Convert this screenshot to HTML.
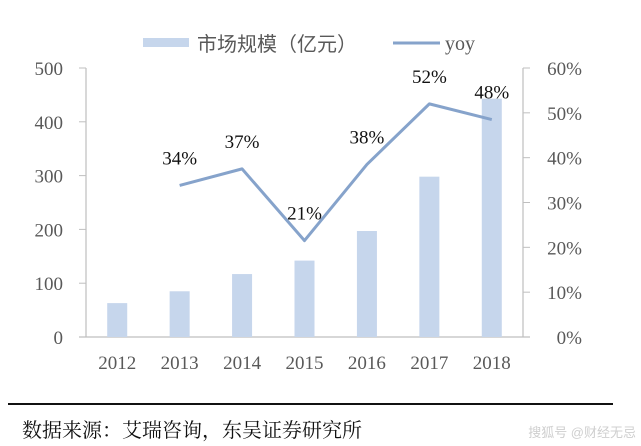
<!DOCTYPE html>
<html><head><meta charset="utf-8"><style>
body{margin:0;background:#fff;width:641px;height:446px;overflow:hidden}
svg{display:block}
text{font-family:"Liberation Serif","Noto Serif CJK SC",serif}
</style></head><body>
<svg id="c" width="641" height="446">
<g id="g"></g>
</svg>
<script>
const categories=["2012","2013","2014","2015","2016","2017","2018"];
const marketSize=[63,85,117,142,197,298,443];
const yoy=[null,33.8,37.5,21.5,38.5,52,48.5];
const yoyLabels=["","34%","37%","21%","38%","52%","48%"];
const leftTicks=[0,100,200,300,400,500];
const rightTicks=[0,10,20,30,40,50,60];
const NS="http://www.w3.org/2000/svg";
const g=document.getElementById('g');
const x0=86,x1=523,yb=337,yt=68;
const yL=v=>yb-(v/500)*(yb-yt);
const yR=v=>yb-(v/60)*(yb-yt);
const step=(x1-x0)/categories.length;
const xC=i=>x0+step*(i+0.5);
function el(t,a,p){const e=document.createElementNS(NS,t);for(const k in a)e.setAttribute(k,a[k]);(p||g).appendChild(e);return e;}
let e;
e=el('line',{x1:x0,y1:yt,x2:x0,y2:yb,stroke:'#bfbfbf','stroke-width':1.2});


e=el('line',{x1:x1,y1:yt,x2:x1,y2:yb,stroke:'#bfbfbf','stroke-width':1.2});


e=el('line',{x1:79,y1:yb,x2:x1+7,y2:yb,stroke:'#bfbfbf','stroke-width':1.2});


leftTicks.forEach(v=>{
  el('line',{x1:79,y1:yL(v),x2:x0,y2:yL(v),stroke:'#bfbfbf'});
  e=el('text',{x:63,y:yL(v)+7,'text-anchor':'end','font-size':19,fill:'#595959'});
  e.textContent=v;
  
  
});
rightTicks.forEach(v=>{
  el('line',{x1:x1,y1:yR(v),x2:x1+7,y2:yR(v),stroke:'#bfbfbf'});
  e=el('text',{x:582,y:yR(v)+7,'text-anchor':'end','font-size':19,fill:'#595959'});
  e.textContent=v+'%';
  
  
});
categories.forEach((c,i)=>{
  e=el('rect',{x:xC(i)-10,y:yL(marketSize[i]),width:20,height:yb-yL(marketSize[i]),fill:'#c6d6ec'});
  
  
  e=el('text',{x:xC(i),y:369,'text-anchor':'middle','font-size':19,fill:'#595959'});
  e.textContent=c;
  
  
});
let pts=[];
yoy.forEach((v,i)=>{if(v!==null)pts.push(xC(i)+','+yR(v));});
e=el('polyline',{points:pts.join(' '),fill:'none',stroke:'#86a3cb','stroke-width':3,'stroke-linejoin':'round'});


yoy.forEach((v,i)=>{if(v===null)return;
  e=el('text',{x:xC(i),y:yR(v)-21,'text-anchor':'middle','font-size':19,fill:'#111'});
  e.textContent=yoyLabels[i];
  
  
});
</script>
<svg style="position:absolute;left:0;top:0" width="641" height="446">
<g>
<rect x="143" y="38" width="46" height="9" fill="#c6d6ec"/>
<text x="197" y="51" font-size="20" fill="#595959" style="font-family:'Liberation Sans','Noto Sans CJK SC',sans-serif">市场规模（亿元）</text>
<line x1="393" y1="43" x2="440" y2="43" stroke="#86a3cb" stroke-width="3"/>
<text x="445" y="50" font-size="20" fill="#595959">yoy</text>
</g>
<line x1="8" y1="404" x2="613" y2="404" stroke="#111" stroke-width="2"/>
<text x="22" y="437" font-size="20" fill="#111">数据来源：艾瑞咨询，东吴证券研究所</text>
<text x="636" y="437" text-anchor="end" font-size="13" fill="#cfcfcf" style="font-family:'Liberation Sans','Noto Sans CJK SC',sans-serif">搜狐号 @财经无忌</text>
</svg>
</body></html>
